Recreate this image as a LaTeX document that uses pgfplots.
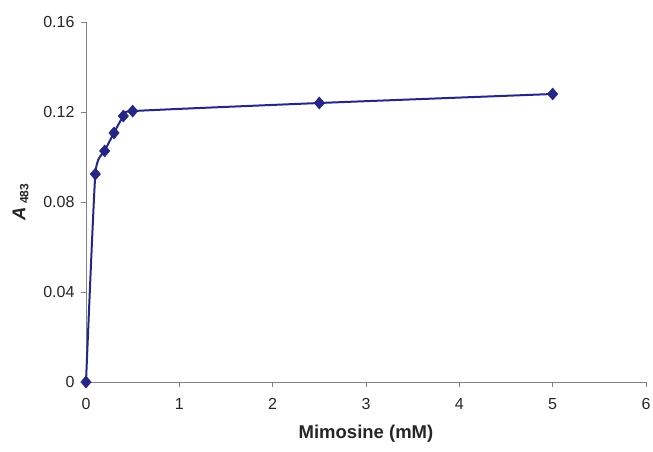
\documentclass[border=0pt]{standalone}
\usepackage{pgfplots}
\pgfplotsset{compat=1.18}
\usepackage{fontspec}
\setmainfont{Liberation Sans}
\definecolor{lc}{RGB}{38,38,135}
\definecolor{ax}{RGB}{130,130,130}
\begin{document}
\begin{tikzpicture}[x=1pt,y=1pt]
\path[use as bounding box] (-86,-69) rectangle (567,382);
\begin{axis}[
  at={(0,0)}, anchor=origin,
  scale only axis, width=560pt, height=360pt,
  xmin=0, xmax=6, ymin=0, ymax=0.16,
  axis x line*=bottom, axis y line*=left,
  axis line style={ax, line width=0.8pt, -},
  xtick={0,1,2,3,4,5,6},
  ytick={0,0.04,0.08,0.12,0.16},
  yticklabels={0,0.04,0.08,0.12,0.16},
  tick style={ax, line width=0.8pt},
  tick align=outside, major tick length=5pt,
  /pgf/number format/assume math mode=true,
  tick label style={font=\fontsize{16}{18}\selectfont, text=black!85},
  xticklabel style={yshift=-8pt},
  yticklabel style={xshift=-3pt},
  xlabel={\textbf{Mimosine (mM)}},
  ylabel={\textbf{\textit{A}\,\raisebox{-0.3ex}{\fontsize{12}{14}\selectfont 483}}},
  label style={font=\fontsize{18.5}{22}\selectfont, text=black!85},
  xlabel style={yshift=-8pt},
  ylabel style={yshift=8pt},
  clip=false,
]
\addplot[color=lc, line width=2pt, smooth, tension=0.3, mark=diamond*, mark size=6pt, mark options={fill=lc, draw=lc, line width=0.5pt, xscale=1.15}]
coordinates {(0,0) (0.1,0.0924) (0.2,0.1027) (0.3,0.1107) (0.4,0.1182) (0.5,0.1204) (2.5,0.124) (5,0.128)};
\end{axis}
\end{tikzpicture}
\end{document}
